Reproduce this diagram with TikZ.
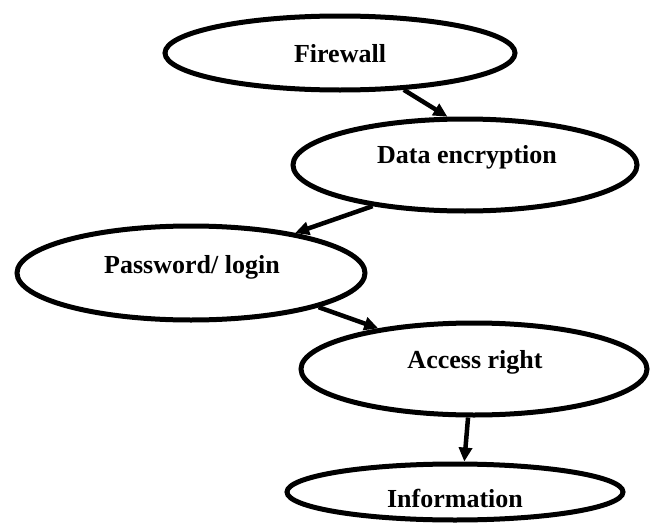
\documentclass[tikz,border=0pt]{standalone}
\usepackage{fontspec}
\setmainfont{Liberation Serif}
\usetikzlibrary{shapes.geometric,arrows.meta}
\tikzset{
  oval/.style={ellipse,draw=black,line width=5pt,inner sep=0pt,fill=white},
  lbl/.style={anchor=base,inner sep=0pt,font=\bfseries\fontsize{26}{30}\selectfont},
  conn/.style={line width=4.5pt,-{Triangle[length=14pt,width=13pt]}}
}
\begin{document}
\begin{tikzpicture}[x=1pt,y=-1pt]
\useasboundingbox[fill=white] (0,0) rectangle (657,525);
\node[oval,minimum width=350pt,minimum height=74pt] (fw) at (340,53) {};
\node[oval,minimum width=344pt,minimum height=92pt] (de) at (465,165) {};
\node[oval,minimum width=348pt,minimum height=94pt] (pw) at (191,273) {};
\node[oval,minimum width=346pt,minimum height=92pt] (ar) at (474,369) {};
\node[oval,minimum width=336pt,minimum height=56pt] (inf) at (455,492) {};
\node[lbl] (fwt) at (340,62) {Firewall};
\node[lbl] (det) at (467,163) {Data encryption};
\node[lbl] (pwt) at (192,273) {Password/ login};
\node[lbl] (art) at (475,368) {Access right};
\node[lbl] (inft) at (455,507) {Information};
\draw[conn] (fw.-30) -- (de.110);
\draw[conn] (de.204) -- (pw.21);
\draw[conn] (pw.-15) -- (ar.157);
\draw[conn] (ar.-97) -- (inf.73);
\end{tikzpicture}
\end{document}
